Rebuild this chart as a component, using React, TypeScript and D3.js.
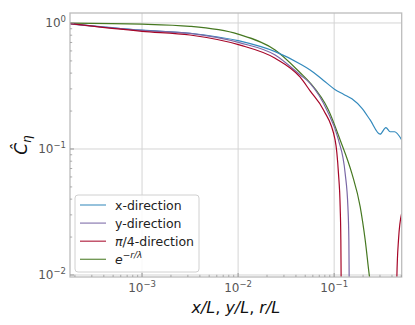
import * as d3 from "d3";

const W = 415;
const H = 325;
const margin = { top: 13, right: 13.3, bottom: 48, left: 70 };

const X_DOMAIN: [number, number] = [1.778e-4, 0.505];
const Y_DOMAIN: [number, number] = [0.00964, 1.2];

const X_MAJOR = [1e-3, 1e-2, 1e-1];
const X_MAJOR_EXP = ["\u22123", "\u22122", "\u22121"];
const Y_MAJOR = [1, 0.1, 0.01];
const Y_MAJOR_EXP = ["0", "\u22121", "\u22122"];

// [x, C] pairs
const xDir: [number, number][] = [
  [1.778e-4, 0.99], [1e-3, 0.876], [3.16e-3, 0.829], [1.03e-2, 0.72], [0.0243, 0.592],
  [0.0443, 0.473], [0.0562, 0.424], [0.0775, 0.35], [0.1016, 0.297], [0.125, 0.272],
  [0.153, 0.25], [0.194, 0.211], [0.237, 0.17], [0.301, 0.131], [0.3455, 0.148],
  [0.383, 0.137], [0.425, 0.137], [0.505, 0.118],
];
const yDir: [number, number][] = [
  [1.778e-4, 0.985], [1e-3, 0.873], [3.16e-3, 0.826], [1.03e-2, 0.698], [0.0243, 0.557],
  [0.0443, 0.387], [0.0562, 0.332], [0.0839, 0.204], [0.1109, 0.118],
  [0.1302, 0.064], [0.139, 0.0349], [0.1423, 0.019], [0.1433, 0.0097], [0.1445, 0.004],
];
const diagDir: [number, number][] = [
  [1.778e-4, 0.987], [1e-3, 0.859], [3.16e-3, 0.803], [1.03e-2, 0.67], [0.0243, 0.525],
  [0.0443, 0.371], [0.0562, 0.289], [0.0775, 0.204], [0.1023, 0.118], [0.1109, 0.064],
  [0.1155, 0.0349], [0.1174, 0.019], [0.1182, 0.0097], [0.119, 0.004],
];
const diagTail: [number, number][] = [
  [0.447, 0.004], [0.4498, 0.0097], [0.4677, 0.019], [0.505, 0.031],
];
const expFit: [number, number][] = [
  [1.778e-4, 0.996], [1e-3, 0.978], [3.16e-3, 0.94], [1e-2, 0.815], [0.0243, 0.61],
  [0.0443, 0.403], [0.0562, 0.335], [0.0872, 0.204], [0.1155, 0.118], [0.1529, 0.064],
  [0.1866, 0.0349], [0.2104, 0.019], [0.2333, 0.0097], [0.245, 0.0075],
];

const C_BLUE = "#348ABD";
const C_PURPLE = "#7A68A6";
const C_RED = "#A60628";
const C_GREEN = "#467821";

const SPINE = "#bcbcbc";
const GRID = "#d4d4d4";
const TICK_TXT = "#555555";
const FONT = "DejaVu Sans, sans-serif";

export default function App() {
  const iw = W - margin.left - margin.right;
  const ih = H - margin.top - margin.bottom;
  const x = d3.scaleLog().domain(X_DOMAIN).range([0, iw]);
  const y = d3.scaleLog().domain(Y_DOMAIN).range([ih, 0]);

  const line = d3
    .line<[number, number]>()
    .x((d) => x(d[0]))
    .y((d) => y(d[1]))
    .curve(d3.curveMonotoneX);

  const xMinor = x.ticks().filter((t) => !X_MAJOR.some((m) => Math.abs(m - t) / m < 1e-6));
  const yMinor = y.ticks().filter((t) => !Y_MAJOR.some((m) => Math.abs(m - t) / m < 1e-6));

  const series = [
    { data: expFit, color: C_GREEN },
    { data: xDir, color: C_BLUE },
    { data: yDir, color: C_PURPLE },
    { data: diagDir, color: C_RED },
    { data: diagTail, color: C_RED },
  ];

  const legend = [
    { color: C_BLUE, label: <tspan>x-direction</tspan> },
    { color: C_PURPLE, label: <tspan>y-direction</tspan> },
    {
      color: C_RED,
      label: (
        <>
          <tspan fontStyle="italic">π</tspan>
          <tspan>/4-direction</tspan>
        </>
      ),
    },
    {
      color: C_GREEN,
      label: (
        <>
          <tspan fontStyle="italic">e</tspan>
          <tspan fontStyle="italic" fontSize={9} dy={-6}>−r/λ</tspan>
        </>
      ),
    },
  ];

  return (
    <svg
      width={W}
      height={H}
      style={{ position: "absolute", left: 0, top: 0, background: "#fff" }}
      fontFamily={FONT}
    >
      <defs>
        <clipPath id="plot-clip">
          <rect x={0} y={0} width={iw} height={ih} />
        </clipPath>
      </defs>
      <g transform={`translate(${margin.left},${margin.top})`}>
        {/* grid */}
        {X_MAJOR.map((t) => (
          <line key={"gx" + t} x1={x(t)} x2={x(t)} y1={0} y2={ih} stroke={GRID} strokeWidth={1} />
        ))}
        {Y_MAJOR.map((t) => (
          <line key={"gy" + t} x1={0} x2={iw} y1={y(t)} y2={y(t)} stroke={GRID} strokeWidth={1} />
        ))}

        {/* curves */}
        <g clipPath="url(#plot-clip)">
          {series.map((s, i) => (
            <path key={i} d={line(s.data) ?? ""} fill="none" stroke={s.color} strokeWidth={1.2} />
          ))}
        </g>

        {/* spines */}
        <rect x={0} y={0} width={iw} height={ih} fill="none" stroke={SPINE} strokeWidth={1.3} />

        {/* ticks (inward) */}
        {X_MAJOR.map((t) => (
          <line key={"tx" + t} x1={x(t)} x2={x(t)} y1={ih} y2={ih - 4} stroke="#999" strokeWidth={1} />
        ))}
        {xMinor.map((t) => (
          <line key={"mx" + t} x1={x(t)} x2={x(t)} y1={ih} y2={ih - 2.2} stroke="#999" strokeWidth={0.8} />
        ))}
        {Y_MAJOR.map((t) => (
          <line key={"ty" + t} x1={0} x2={4} y1={y(t)} y2={y(t)} stroke="#999" strokeWidth={1} />
        ))}
        {yMinor.map((t) => (
          <line key={"my" + t} x1={0} x2={2.2} y1={y(t)} y2={y(t)} stroke="#999" strokeWidth={0.8} />
        ))}

        {/* tick labels */}
        {X_MAJOR.map((t, i) => (
          <text key={"lx" + t} x={x(t)} y={ih + 15} textAnchor="middle" fontSize={12} fill={TICK_TXT}>
            <tspan>10</tspan>
            <tspan fontSize={8.5} dy={-5}>{X_MAJOR_EXP[i]}</tspan>
          </text>
        ))}
        {Y_MAJOR.map((t, i) => (
          <text key={"ly" + t} x={-4} y={y(t) + 4.5} textAnchor="end" fontSize={12} fill={TICK_TXT}>
            <tspan>10</tspan>
            <tspan fontSize={8.5} dy={-5}>{Y_MAJOR_EXP[i]}</tspan>
          </text>
        ))}

        {/* axis labels */}
        <text x={iw / 2} y={ih + 36} textAnchor="middle" fontSize={16} fill="#111">
          <tspan fontStyle="italic">x</tspan>
          <tspan fontStyle="italic">/L</tspan>
          <tspan>, </tspan>
          <tspan fontStyle="italic">y</tspan>
          <tspan fontStyle="italic">/L</tspan>
          <tspan>, </tspan>
          <tspan fontStyle="italic">r</tspan>
          <tspan fontStyle="italic">/L</tspan>
        </text>
        <text
          transform={`translate(${-43},${ih / 2}) rotate(-90)`}
          textAnchor="middle"
          fontSize={17}
          fill="#111"
        >
          <tspan fontStyle="italic">Ĉ</tspan>
          <tspan fontStyle="italic" fontSize={12} dy={4}>η</tspan>
        </text>

        {/* legend */}
        <g transform={`translate(5,${182})`}>
          <rect x={0} y={0} width={124} height={77} rx={3} fill="#fff" fillOpacity={0.85} stroke="#d0d0d0" strokeWidth={1} />
          {legend.map((l, i) => (
            <g key={i} transform={`translate(0,${10 + i * 18.1})`}>
              <line x1={5} x2={31} y1={0} y2={0} stroke={l.color} strokeWidth={1.3} strokeOpacity={0.8} />
              <text x={40} y={4.5} fontSize={12.5} fill="#222">
                {l.label}
              </text>
            </g>
          ))}
        </g>
      </g>
    </svg>
  );
}
